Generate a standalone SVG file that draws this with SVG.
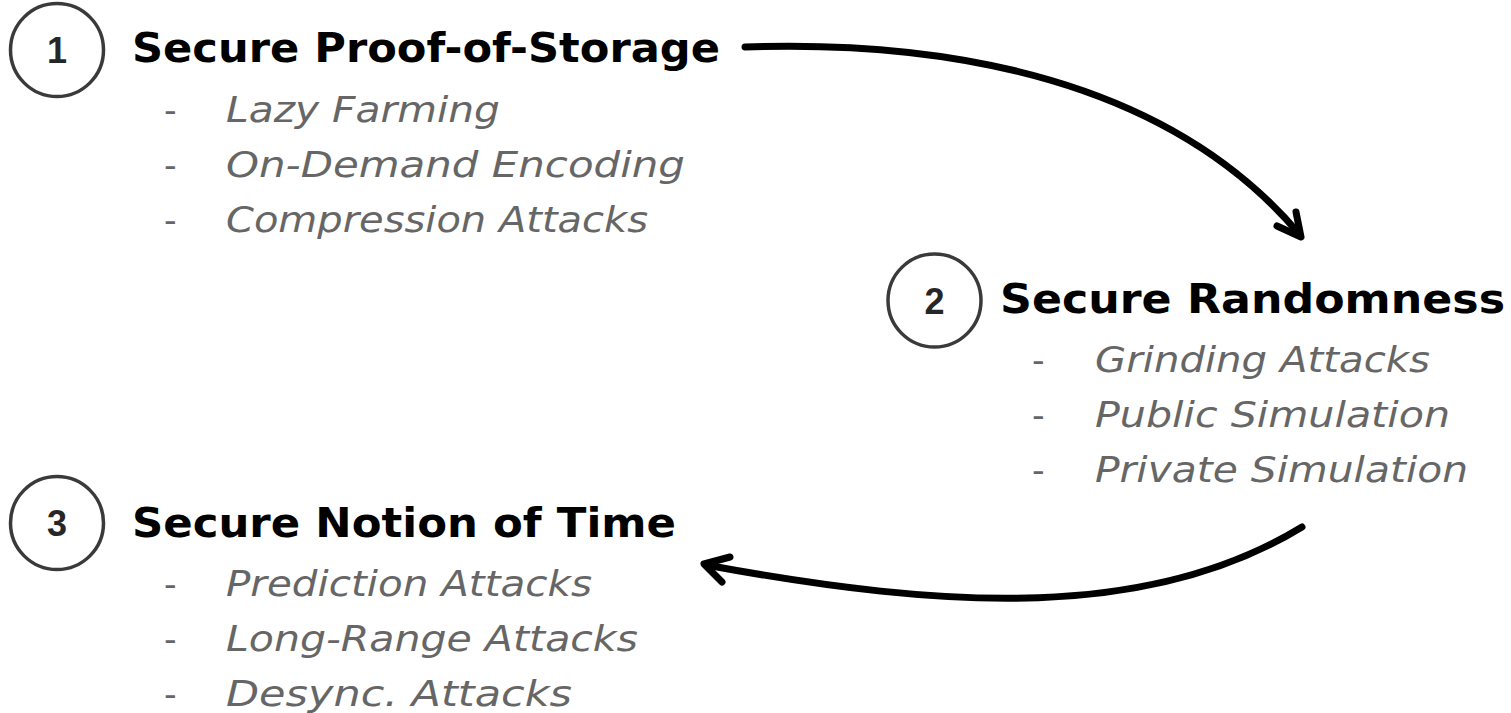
<svg xmlns="http://www.w3.org/2000/svg" width="1511" height="713" viewBox="0 0 1511 713">
  <style>
    .badge { fill: none; stroke: #3a3a3a; stroke-width: 3.5; }
    .num { font-family: "Liberation Sans", Arial, sans-serif; font-weight: bold; font-size: 36px; fill: #262626; text-anchor: middle; }
    .title { font-family: "DejaVu Sans", "Open Sans", sans-serif; font-weight: bold; font-size: 41px; fill: #000; }
    .item { font-family: "DejaVu Sans", "Open Sans", sans-serif; font-style: italic; font-size: 35px; fill: #666; }
    .dash { font-family: "DejaVu Sans", sans-serif; font-size: 35px; fill: #666; }
    .conn { fill: none; stroke: #000; stroke-width: 7; stroke-linecap: round; stroke-linejoin: round; }
  </style>
  <rect width="1511" height="713" fill="#fff"/>

  <g id="node-storage">
    <circle class="badge" cx="57" cy="50" r="46.5"/>
    <text class="num" x="57" y="63">1</text>
    <text class="title" x="132" y="62" textLength="588" lengthAdjust="spacingAndGlyphs">Secure Proof-of-Storage</text>
    <text class="dash" x="164" y="122">-</text>
    <text class="item" x="226" y="122" textLength="274" lengthAdjust="spacingAndGlyphs">Lazy Farming</text>
    <text class="dash" x="164" y="177">-</text>
    <text class="item" x="226" y="177" textLength="459" lengthAdjust="spacingAndGlyphs">On-Demand Encoding</text>
    <text class="dash" x="164" y="232">-</text>
    <text class="item" x="226" y="232" textLength="422" lengthAdjust="spacingAndGlyphs">Compression Attacks</text>
  </g>

  <g id="node-randomness">
    <circle class="badge" cx="934.5" cy="300.5" r="46.5"/>
    <text class="num" x="934.5" y="313.5">2</text>
    <text class="title" x="1000" y="313" textLength="505" lengthAdjust="spacingAndGlyphs">Secure Randomness</text>
    <text class="dash" x="1032" y="372">-</text>
    <text class="item" x="1095" y="372" textLength="335" lengthAdjust="spacingAndGlyphs">Grinding Attacks</text>
    <text class="dash" x="1032" y="427">-</text>
    <text class="item" x="1095" y="427" textLength="355" lengthAdjust="spacingAndGlyphs">Public Simulation</text>
    <text class="dash" x="1032" y="482">-</text>
    <text class="item" x="1095" y="482" textLength="373" lengthAdjust="spacingAndGlyphs">Private Simulation</text>
  </g>

  <g id="node-time">
    <circle class="badge" cx="57" cy="523" r="46.5"/>
    <text class="num" x="57" y="536">3</text>
    <text class="title" x="132" y="537" textLength="544" lengthAdjust="spacingAndGlyphs">Secure Notion of Time</text>
    <text class="dash" x="164" y="596">-</text>
    <text class="item" x="226" y="596" textLength="366" lengthAdjust="spacingAndGlyphs">Prediction Attacks</text>
    <text class="dash" x="164" y="651">-</text>
    <text class="item" x="226" y="651" textLength="412" lengthAdjust="spacingAndGlyphs">Long-Range Attacks</text>
    <text class="dash" x="164" y="706">-</text>
    <text class="item" x="226" y="706" textLength="346" lengthAdjust="spacingAndGlyphs">Desync. Attacks</text>
  </g>

  <g id="connectors">
    <!-- storage -> randomness -->
    <path class="conn" d="M 745 47 C 950 40, 1170 80, 1300 235"/>
    <polyline class="conn" points="1296,212 1301,237 1277,226"/>
    <!-- randomness -> time -->
    <path class="conn" d="M 1302 527 C 1150 620, 950 610, 706 565"/>
    <polyline class="conn" points="730,557 704,564 722,582"/>
  </g>
</svg>
